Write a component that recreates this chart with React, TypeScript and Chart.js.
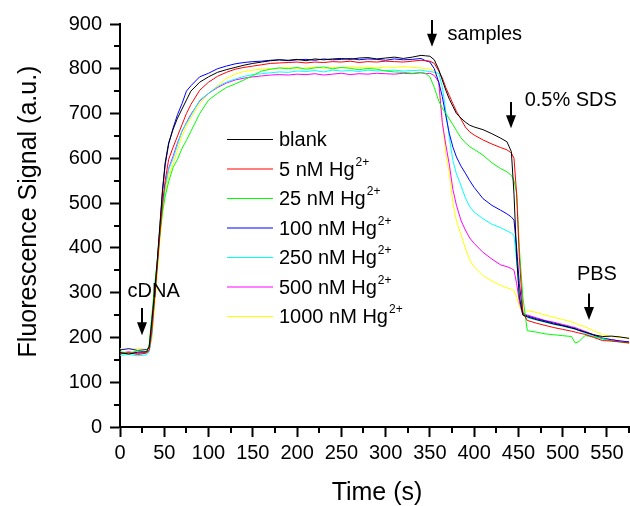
import React, { useEffect, useRef } from "react";
import { Chart, registerables } from "chart.js";

Chart.register(...registerables);

// ---------- data ----------
const TIME = [
  0, 10, 20, 30,
  33, 36, 39, 42, 45, 48, 51, 55, 60, 65, 70, 75, 80, 90,
  100, 110, 120, 130, 140, 150, 160, 170, 180, 190, 200, 210, 220, 230, 240, 250, 260, 270, 280, 290, 300, 310, 320, 330, 340,
  345, 350, 355, 360, 364, 368, 372, 376, 380, 385, 390, 395, 400, 410, 420, 430, 437, 442, 445, 448, 451, 455,
  460, 470, 480, 490, 500, 510, 514, 518, 525, 535, 545, 555, 565, 575,
];

const BLANK = [
  166, 163, 167, 168,
  180, 240, 300, 370, 450, 530, 590, 635, 665, 690, 710, 730, 750, 770,
  782, 792, 798, 803, 808, 812, 815, 818, 820, 819, 821, 818, 822, 820, 822, 823, 821, 824, 825, 822, 824, 826, 823, 826, 830,
  829, 828, 820, 798, 775, 752, 732, 716, 700, 690, 681, 674, 670, 664, 655, 645, 637, 615, 520, 380, 290, 250,
  246, 240, 235, 230, 226, 221, 219, 216, 212, 206, 202, 203, 201, 198,
];

const HG_5 = [
  163, 166, 162, 165,
  172, 215, 285, 355, 430, 500, 550, 598, 625, 650, 675, 700, 720, 752,
  770, 783, 792, 799, 803, 806, 809, 812, 813, 814, 815, 813, 815, 814, 816, 815, 817, 814, 816, 815, 817, 816, 815, 817, 819,
  818, 817, 812, 795, 780, 758, 740, 722, 705, 688, 670, 659, 652, 641, 632, 624, 619, 612, 600, 520, 380, 255,
  238, 232, 227, 222, 218, 214, 212, 210, 207, 200, 193, 192, 190, 188,
];

const HG_25 = [
  168, 165, 170, 167,
  185, 250, 315, 370, 430, 480, 515, 548, 580, 598, 622, 640, 660, 700,
  730, 745, 758, 766, 775, 785, 795, 799, 802, 800, 803, 799, 802, 804, 800, 803, 801, 798, 801, 799, 795, 793, 792, 790, 792,
  790, 782, 758, 728, 712, 700, 688, 675, 662, 646, 635, 626, 620, 607, 590, 577, 570, 562, 550, 522, 400, 290,
  215, 212, 208, 206, 204, 202, 188, 190, 204, 202, 198, 192, 190, 187,
];

const HG_100 = [
  172, 175, 171, 173,
  178, 232, 295, 365, 445, 525, 585, 632, 668, 698, 722, 750, 762, 782,
  790, 800, 806, 811, 814, 816, 817, 819, 820, 818, 820, 821, 819, 822, 820, 821, 823, 820, 822, 821, 819, 822, 820, 821, 823,
  818, 815, 800, 770, 738, 695, 655, 625, 603, 583, 567, 550, 535, 510, 495, 484, 476, 469, 462, 400, 320, 255,
  248, 242, 237, 232, 227, 222, 220, 217, 212, 205, 198, 195, 192, 190,
];

const HG_250 = [
  160, 162, 159, 161,
  168, 205, 285, 360, 430, 490, 535, 575, 600, 630, 662, 678, 695, 730,
  745, 760, 770, 777, 783, 787, 789, 791, 793, 792, 795, 794, 796, 793, 797, 795, 796, 794, 797, 795, 796, 797, 795, 796, 797,
  795, 794, 792, 790, 760, 705, 645, 595, 565, 540, 512, 492, 480, 465, 453, 445, 438, 433, 428, 370, 300, 252,
  244, 239, 234, 229, 225, 220, 218, 215, 210, 202, 196, 193, 190, 188,
];

const HG_500 = [
  165, 168, 164, 167,
  170, 210, 290, 365, 435, 495, 540, 578, 605, 635, 660, 680, 698, 728,
  745, 758, 768, 775, 779, 782, 784, 786, 787, 786, 788, 787, 789, 786, 788, 790, 787, 789, 788, 790, 789, 788, 790, 789, 791,
  789, 790, 785, 770, 680, 630, 585, 530, 495, 462, 440, 422, 410, 390, 375, 362, 358, 354, 350, 320, 280, 250,
  250, 244, 238, 234, 229, 224, 222, 219, 214, 206, 199, 195, 192, 190,
];

const HG_1000 = [
  175, 173, 176, 174,
  175, 195, 265, 340, 415, 475, 520, 560, 588, 618, 650, 672, 690, 722,
  745, 762, 778, 788, 794, 797, 799, 800, 801, 803, 800, 802, 804, 801, 803, 802, 805, 803, 804, 802, 804, 803, 805, 803, 802,
  800, 800, 795, 765, 680, 610, 565, 500, 460, 430, 400, 373, 358, 338, 326, 316, 311, 307, 305, 290, 270, 252,
  260, 256, 250, 245, 240, 235, 232, 228, 224, 215, 206, 202, 200, 198,
];

const SERIES_VALUES = [BLANK, HG_5, HG_25, HG_100, HG_250, HG_500, HG_1000];
const SERIES_LABELS = ["blank", "5 nM Hg", "25 nM Hg", "100 nM Hg", "250 nM Hg", "500 nM Hg", "1000 nM Hg"];
const SERIES_SUPERSCRIPTS = ["", "2+", "2+", "2+", "2+", "2+", "2+"];
const SERIES_COLORS = ["#000000", "#ff0000", "#00ff00", "#0000ff", "#00ffff", "#ff00ff", "#ffff00"];

const X_TICK_VALUES = [0, 50, 100, 150, 200, 250, 300, 350, 400, 450, 500, 550];
const X_MINOR_TICK_VALUES = [25, 75, 125, 175, 225, 275, 325, 375, 425, 475, 525, 575];
const Y_TICK_VALUES = [0, 100, 200, 300, 400, 500, 600, 700, 800, 900];
const Y_MINOR_TICK_VALUES = [50, 150, 250, 350, 450, 550, 650, 750, 850];

const X_TITLE = "Time (s)";
const Y_TITLE = "Fluorescence Signal (a.u.)";

// annotation arrows (data coordinates)
const ANNOTATION_TEXTS = ["cDNA", "samples", "0.5% SDS", "PBS"];
const ANNOTATION_ARROW_X = [25, 352, 441.5, 530];
const ANNOTATION_ARROW_FROM = [266, 909, 726, 298];
const ANNOTATION_ARROW_TO = [205, 849, 667, 239];
const ANNOTATION_TEXT_X = [38, 370, 457, 516];
const ANNOTATION_TEXT_Y = [306, 880, 732, 343];
const ANNOTATION_ALIGN: CanvasTextAlign[] = ["center", "left", "left", "left"];

// ---------- styling ----------
const FONT = '"Liberation Sans", Arial, sans-serif';

const overlayPlugin = {
  id: "overlay",
  afterDraw(chart: any) {
    const { ctx } = chart;
    const x = chart.scales.x;
    const y = chart.scales.y;
    ctx.save();

    // minor ticks
    ctx.strokeStyle = "#000";
    ctx.lineWidth = 2;
    X_MINOR_TICK_VALUES.forEach((v) => {
      const px = Math.round(x.getPixelForValue(v));
      ctx.beginPath();
      ctx.moveTo(px, y.bottom);
      ctx.lineTo(px, y.bottom + 6);
      ctx.stroke();
    });
    Y_MINOR_TICK_VALUES.forEach((v) => {
      const py = Math.round(y.getPixelForValue(v));
      ctx.beginPath();
      ctx.moveTo(x.left - 6, py);
      ctx.lineTo(x.left, py);
      ctx.stroke();
    });

    // axis titles
    ctx.fillStyle = "#000";
    ctx.font = `25px ${FONT}`;
    ctx.textBaseline = "alphabetic";
    ctx.textAlign = "center";
    ctx.fillText(X_TITLE, 377, 500);
    ctx.save();
    ctx.translate(36, 211.5);
    ctx.rotate(-Math.PI / 2);
    ctx.fillText(Y_TITLE, 0, 0);
    ctx.restore();

    // legend
    const legX = 227;
    const legLineLen = 46;
    const legTop = 139;
    const legStep = 29.5;
    SERIES_LABELS.forEach((label, i) => {
      const cy = legTop + i * legStep;
      ctx.strokeStyle = SERIES_COLORS[i];
      ctx.lineWidth = 1.2;
      ctx.beginPath();
      ctx.moveTo(legX, cy + 0.5);
      ctx.lineTo(legX + legLineLen, cy + 0.5);
      ctx.stroke();
      ctx.fillStyle = "#000";
      ctx.textAlign = "left";
      ctx.font = `20px ${FONT}`;
      const tx = legX + legLineLen + 6;
      const base = cy + 7;
      ctx.fillText(label, tx, base);
      const w = ctx.measureText(label).width;
      if (SERIES_SUPERSCRIPTS[i]) {
        ctx.font = `12px ${FONT}`;
        ctx.fillText(SERIES_SUPERSCRIPTS[i], tx + w + 1, base - 10);
      }
    });

    // annotations
    ANNOTATION_TEXTS.forEach((text, i) => {
      const ax = Math.round(x.getPixelForValue(ANNOTATION_ARROW_X[i]));
      const ay0 = y.getPixelForValue(ANNOTATION_ARROW_FROM[i]);
      const ay1 = y.getPixelForValue(ANNOTATION_ARROW_TO[i]);
      const head = 13;
      ctx.strokeStyle = "#000";
      ctx.lineWidth = 2;
      ctx.beginPath();
      ctx.moveTo(ax, ay0);
      ctx.lineTo(ax, ay1 - head + 2);
      ctx.stroke();
      ctx.fillStyle = "#000";
      ctx.beginPath();
      ctx.moveTo(ax - 5, ay1 - head);
      ctx.lineTo(ax + 5, ay1 - head);
      ctx.lineTo(ax, ay1);
      ctx.closePath();
      ctx.fill();

      ctx.font = `20px ${FONT}`;
      ctx.textAlign = ANNOTATION_ALIGN[i];
      const tx = x.getPixelForValue(ANNOTATION_TEXT_X[i]);
      const ty = y.getPixelForValue(ANNOTATION_TEXT_Y[i]) + 7;
      ctx.fillText(text, tx, ty);
    });

    ctx.restore();
  },
};

export default function App() {
  const canvasRef = useRef<HTMLCanvasElement>(null);

  useEffect(() => {
    const canvas = canvasRef.current;
    if (!canvas) return;

    const datasets = SERIES_VALUES.map((vals, i) => ({
      label: SERIES_LABELS[i] + SERIES_SUPERSCRIPTS[i],
      data: TIME.map((t, k) => ({ x: t, y: vals[k] })),
      borderColor: SERIES_COLORS[i],
      backgroundColor: SERIES_COLORS[i],
      borderWidth: 1,
      pointRadius: 0,
      tension: 0,
      fill: false,
    }));

    const chart = new Chart(canvas, {
      type: "line",
      data: { datasets },
      options: {
        responsive: false,
        animation: false,
        devicePixelRatio: 1,
        layout: { padding: { top: 24, left: 0, right: 0, bottom: 0 } },
        plugins: {
          legend: { display: false },
          tooltip: { enabled: false },
        },
        scales: {
          x: {
            type: "linear",
            min: 0,
            max: 576,
            afterBuildTicks: (s: any) => {
              s.ticks = X_TICK_VALUES.map((v) => ({ value: v }));
            },
            afterFit: (s: any) => {
              s.height = 79;
            },
            grid: {
              display: true,
              drawOnChartArea: false,
              drawTicks: true,
              tickLength: 10,
              tickWidth: 2,
              tickColor: "#000",
            },
            border: { display: true, color: "#000", width: 2 },
            ticks: {
              autoSkip: false,
              maxRotation: 0,
              padding: 4,
              color: "#000",
              font: { family: FONT, size: 20 },
            },
          },
          y: {
            type: "linear",
            min: 0,
            max: 900,
            afterBuildTicks: (s: any) => {
              s.ticks = Y_TICK_VALUES.map((v) => ({ value: v }));
            },
            afterFit: (s: any) => {
              s.width = 120;
            },
            grid: {
              display: true,
              drawOnChartArea: false,
              drawTicks: true,
              tickLength: 10,
              tickWidth: 2,
              tickColor: "#000",
            },
            border: { display: true, color: "#000", width: 2 },
            ticks: {
              autoSkip: false,
              padding: 8,
              color: "#000",
              font: { family: FONT, size: 20 },
            },
          },
        },
      },
      plugins: [overlayPlugin],
    });

    return () => chart.destroy();
  }, []);

  return (
    <div style={{ position: "fixed", left: 0, top: 0, width: 630, height: 506, background: "#fff" }}>
      <canvas ref={canvasRef} width={630} height={506} style={{ display: "block", width: 630, height: 506 }} />
    </div>
  );
}
